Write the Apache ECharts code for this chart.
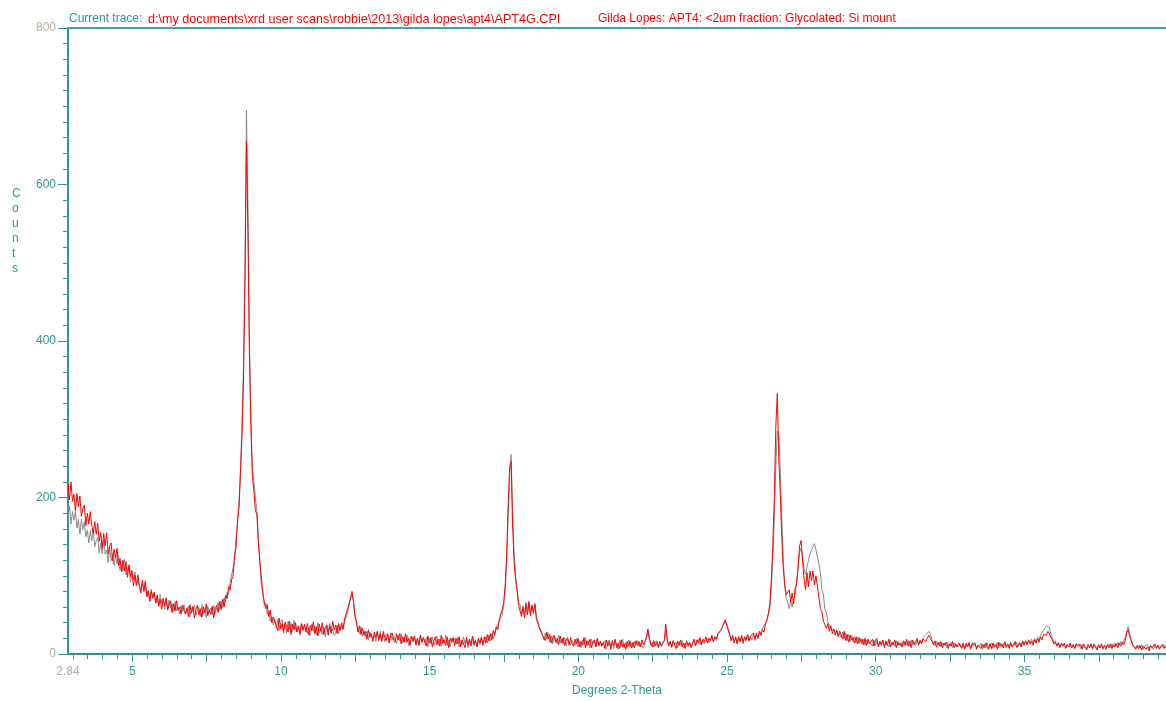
<!DOCTYPE html>
<html>
<head>
<meta charset="utf-8">
<script src="https://cdn.jsdelivr.net/npm/echarts@6/dist/echarts.min.js"></script>
<style>
html,body{margin:0;padding:0;background:#fff;}
#chart{width:1166px;height:701px;}
</style>
</head>
<body>
<div id="chart"></div>
<script>
// Scan grid (degrees 2-theta)
const twoThetaStart = 2.84;
const twoThetaStep = 0.05;

// Red trace: APT4G (glycolated) - counts, one row per degree starting at 2.84, 3.84, ...
const redCounts = [
218,197,220,195,204,183,205,188,202,176,186,190,164,180,166,182,164,154,169,153,
167,144,155,135,154,138,155,128,138,142,119,134,123,135,113,122,105,120,106,118,
98,114,99,107,87,101,88,101,88,78,94,80,93,73,81,67,80,71,79,65,
75,61,70,57,70,62,72,56,63,68,53,64,55,68,56,60,51,62,56,51,
59,48,63,52,61,46,57,62,50,58,47,60,53,64,49,56,51,61,46,58,
62,53,67,57,70,60,75,71,86,82,95,99,126,136,170,187,232,280,350,470,
655,540,385,292,228,209,183,179,144,118,100,76,77,58,63,48,56,40,47,42,
43,30,46,32,39,27,41,36,28,42,25,38,31,40,28,35,25,39,30,38,
28,39,24,37,30,41,26,35,23,38,29,40,25,34,37,24,36,27,42,31,
37,26,39,30,40,32,45,43,57,64,72,80,66,48,42,28,36,25,33,24,
29,19,31,21,26,16,28,21,29,17,25,16,29,21,17,26,14,24,27,18,
15,26,18,26,13,22,15,26,15,20,11,23,17,23,12,20,11,24,15,21,
19,10,23,14,21,9,17,22,12,19,10,24,13,18,11,22,8,20,15,21,
11,20,13,22,9,18,16,8,21,12,19,10,23,13,18,9,20,14,21,11,
22,14,25,17,26,18,30,24,35,31,44,43,57,66,88,125,190,238,246,165,
118,95,81,62,61,48,60,46,64,50,66,49,62,52,63,45,46,33,34,24,
26,17,28,19,25,14,21,24,15,20,12,23,14,21,11,18,21,11,21,13,
10,19,13,20,9,16,11,21,8,17,12,19,8,15,18,9,20,11,16,10,
15,7,18,10,16,6,17,11,19,8,14,7,18,9,13,6,16,10,17,8,
15,8,17,11,16,9,18,12,16,22,32,20,13,9,17,10,15,8,16,11,
10,17,38,19,11,16,9,17,12,7,16,11,18,9,14,7,17,11,15,8,
13,19,11,18,14,21,12,19,16,22,14,20,17,24,16,22,19,26,24,30,
32,38,43,41,30,24,17,24,14,22,13,21,16,24,15,22,18,25,17,23,
22,27,19,26,21,29,24,31,28,38,44,52,64,95,140,200,290,333,250,205,
150,110,88,76,74,82,66,78,64,84,90,110,138,145,120,96,82,104,86,106,
94,106,88,100,86,72,58,54,42,42,33,39,29,36,26,32,24,31,22,29,
27,19,29,17,25,15,24,18,21,14,22,13,21,15,19,12,20,11,19,13,
11,19,10,17,20,9,16,12,18,8,17,11,19,9,15,12,18,8,16,11,
14,9,17,11,19,10,16,8,18,12,15,20,11,17,13,19,17,16,21,24,
20,16,12,17,9,15,10,16,8,14,11,15,7,13,10,16,8,13,9,14,
12,7,14,6,13,9,15,7,12,10,14,6,11,13,7,12,8,14,9,6,
13,7,14,9,12,6,15,10,13,8,15,9,12,7,14,9,12,16,8,11,
14,9,16,11,17,12,18,13,16,11,18,14,19,15,22,18,25,27,24,29,
26,21,18,13,16,10,14,8,13,10,14,7,12,9,14,8,12,7,13,10,
8,12,6,13,9,5,11,8,13,7,12,9,5,11,8,13,7,10,6,12,
8,13,7,12,9,13,8,14,10,15,12,17,27,31,22,17,11,9,6,11,
7,11,5,10,12,6,9,4,11,8,10,13,7,11,6,9,12,7,10
];

// Gray trace: comparison scan - counts on the same grid
const grayCounts = [
177,189,166,182,171,183,161,172,153,172,159,169,150,158,142,158,145,159,137,145,
149,129,142,128,146,128,133,117,136,119,127,113,127,115,126,107,115,106,121,101,
100,112,92,104,95,105,87,94,96,80,91,80,91,74,81,68,83,72,78,65,
75,62,76,65,72,57,67,58,69,59,65,54,67,55,60,51,62,54,63,51,
52,61,47,59,54,62,49,57,60,48,63,51,58,46,61,53,59,50,62,52,
53,66,56,68,59,72,67,79,76,91,91,110,118,147,168,196,235,290,365,490,
695,575,400,300,235,222,200,184,147,120,88,82,62,65,51,54,42,48,37,45,
34,44,30,40,44,31,38,27,42,32,39,28,43,32,28,37,26,39,32,36,
37,26,34,23,38,29,36,24,40,27,33,25,35,22,37,28,39,26,32,24,
27,37,26,36,38,31,41,42,52,62,70,76,68,50,37,39,26,35,23,30,
22,29,18,28,30,19,25,16,28,20,29,17,25,16,25,22,16,27,18,23,
23,13,24,17,26,14,22,15,24,11,20,23,15,23,11,20,12,24,15,21,
14,21,9,20,13,22,11,17,23,12,19,10,21,14,24,11,18,9,20,15,
20,12,21,9,17,11,22,13,19,8,18,14,21,10,17,9,20,12,22,13,
13,22,14,24,16,26,19,28,27,36,36,47,50,62,82,118,178,228,255,178,
128,100,85,66,63,51,62,48,66,52,68,51,63,54,65,47,47,35,35,25,
18,27,19,27,15,23,13,23,19,13,24,14,19,13,21,10,19,21,12,17,
19,11,20,9,16,8,18,12,21,10,17,8,19,13,18,9,20,10,16,11,
9,17,6,15,18,8,14,7,16,13,6,17,10,19,8,15,7,18,9,14,
8,16,12,17,9,14,16,7,15,20,28,18,11,15,9,14,17,10,14,9,
14,17,30,16,10,16,8,17,11,15,8,16,11,17,8,14,16,9,15,11,
12,17,10,16,19,12,15,18,13,17,20,14,18,21,15,22,17,24,25,31,
34,40,44,43,33,26,17,21,17,20,14,23,15,22,13,22,16,24,17,23,
18,25,17,27,19,28,25,33,31,39,42,50,60,85,125,175,240,285,280,235,
175,120,90,70,66,58,68,60,72,76,92,112,130,135,125,108,102,112,120,128,
133,131,141,133,135,115,103,82,76,57,53,41,41,32,34,30,31,27,29,25,
21,28,19,27,17,25,16,24,15,22,14,22,13,20,12,19,11,18,13,16,
16,10,18,11,17,9,16,10,17,11,14,16,9,18,11,15,10,17,11,14,
10,15,11,16,12,17,10,18,12,15,11,17,13,18,14,21,20,25,25,29,
26,18,18,11,16,12,15,9,14,11,15,8,13,10,15,8,14,10,12,9,
13,8,12,7,14,9,13,6,15,10,13,7,12,9,14,6,13,8,15,7,
9,14,7,13,10,15,8,14,9,12,16,8,13,10,15,9,14,11,15,9,
15,11,17,13,16,12,18,13,19,14,20,15,22,17,24,22,30,32,36,34,
34,25,23,15,17,11,15,9,14,11,13,8,12,9,13,8,12,7,11,9,
13,7,12,9,11,7,13,8,12,6,13,10,7,12,8,11,6,12,9,7,
12,8,13,9,14,10,15,11,16,12,17,21,30,35,26,19,12,9,11,8,
11,7,12,6,10,8,12,7,11,9,6,12,8,11,7,10,9,12,8
];

// Axis ticks and labels
const xMin = 2.84, xMax = 39.76;
const xLabelValues = [2.84, 5, 10, 15, 20, 25, 30, 35];
const xMajorTicks = [5, 7.5, 10, 12.5, 15, 17.5, 20, 22.5, 25, 27.5, 30, 32.5, 35, 37.5];
const xMinorTicks = [3,3.5,4,4.5,5,5.5,6,6.5,7,7.5,8,8.5,9,9.5,10,10.5,11,11.5,12,12.5,13,13.5,14,14.5,15,15.5,16,16.5,17,17.5,18,18.5,19,19.5,20,20.5,21,21.5,22,22.5,23,23.5,24,24.5,25,25.5,26,26.5,27,27.5,28,28.5,29,29.5,30,30.5,31,31.5,32,32.5,33,33.5,34,34.5,35,35.5,36,36.5,37,37.5,38,38.5,39,39.5];
const yLabelValues = [0, 200, 400, 600, 800];

const titleLead = 'Current trace:';
const titlePath = 'd:\\my documents\\xrd user scans\\robbie\\2013\\gilda lopes\\apt4\\APT4G.CPI';
const titleSample = 'Gilda Lopes: APT4: <2um fraction: Glycolated: Si mount';
const xAxisName = 'Degrees 2-Theta';
const yAxisName = 'Counts';

const TEAL = '#2f9595';
const LGRAY = '#b5ad9f';
const FONT = 'Liberation Sans';

function toPairs(arr) {
  return arr.map((v, i) => [+(twoThetaStart + i * twoThetaStep).toFixed(2), v]);
}

const chart = echarts.init(document.getElementById('chart'), null, {renderer: 'canvas'});
const edgeRich = {
  t: {color: TEAL, fontFamily: FONT, fontSize: 12},
  g: {color: LGRAY, fontFamily: FONT, fontSize: 12}
};

chart.setOption({
  animation: false,
  backgroundColor: '#ffffff',
  grid: {left: 68, right: 0, top: 28, bottom: 47, containLabel: false},
  xAxis: [
    {
      type: 'value', min: xMin, max: xMax, position: 'bottom',
      axisLine: {show: true, onZero: false, lineStyle: {color: TEAL, width: 2}},
      axisTick: {show: true, length: 5, customValues: xMinorTicks, lineStyle: {color: TEAL, width: 1}},
      axisLabel: {
        show: true, margin: 12, customValues: xLabelValues,
        formatter: v => (Math.abs(v - 2.84) < 1e-6 ? '{g|2.84}' : '{t|' + v + '}'),
        rich: edgeRich
      },
      splitLine: {show: false}
    },
    {
      type: 'value', min: xMin, max: xMax, position: 'bottom',
      axisLine: {show: false, onZero: false},
      axisTick: {show: true, length: 8, customValues: xMajorTicks, lineStyle: {color: TEAL, width: 1}},
      axisLabel: {show: false},
      splitLine: {show: false}
    },
    {
      type: 'value', min: xMin, max: xMax, position: 'top',
      axisLine: {show: true, onZero: false, lineStyle: {color: '#4a9fa0', width: 2}},
      axisTick: {show: false}, axisLabel: {show: false}, splitLine: {show: false}
    }
  ],
  yAxis: {
    type: 'value', min: 0, max: 800, interval: 200,
    axisLine: {show: true, onZero: false, lineStyle: {color: TEAL, width: 2}},
    axisTick: {show: true, length: 10, lineStyle: {color: TEAL, width: 1}},
    minorTick: {show: true, splitNumber: 10, length: 5, lineStyle: {color: TEAL, width: 1}},
    axisLabel: {
      margin: 12,
      formatter: v => (v === 0 || v === 800 ? '{g|' + v + '}' : '{t|' + v + '}'),
      rich: edgeRich
    },
    splitLine: {show: false},
    minorSplitLine: {show: false}
  },
  series: [
    {
      name: 'gray', type: 'line', xAxisIndex: 0, data: toPairs(grayCounts),
      showSymbol: false, symbol: 'none',
      lineStyle: {color: '#8a8a8a', width: 1}, z: 2
    },
    {
      name: 'red', type: 'line', xAxisIndex: 0, data: toPairs(redCounts),
      showSymbol: false, symbol: 'none',
      lineStyle: {color: '#ff0000', width: 1}, z: 3
    }
  ],
  graphic: [
    {type: 'text', left: 69, top: 13, style: {text: titleLead, fill: TEAL, font: '12px "' + FONT + '"'}},
    {type: 'text', left: 148, top: 13, style: {text: titlePath, fill: '#ff0000', font: '12.6px "' + FONT + '"'}},
    {type: 'text', left: 598, top: 13, style: {text: titleSample, fill: '#ff0000', font: '12px "' + FONT + '"'}},
    {type: 'text', left: 572, top: 685, style: {text: xAxisName, fill: TEAL, font: '12px "' + FONT + '"'}},
    {type: 'text', left: 12, top: 186, style: {text: yAxisName.split('').join('\n'), fill: TEAL, font: '12px "' + FONT + '"', lineHeight: 15}}
  ]
});
</script>
</body>
</html>
